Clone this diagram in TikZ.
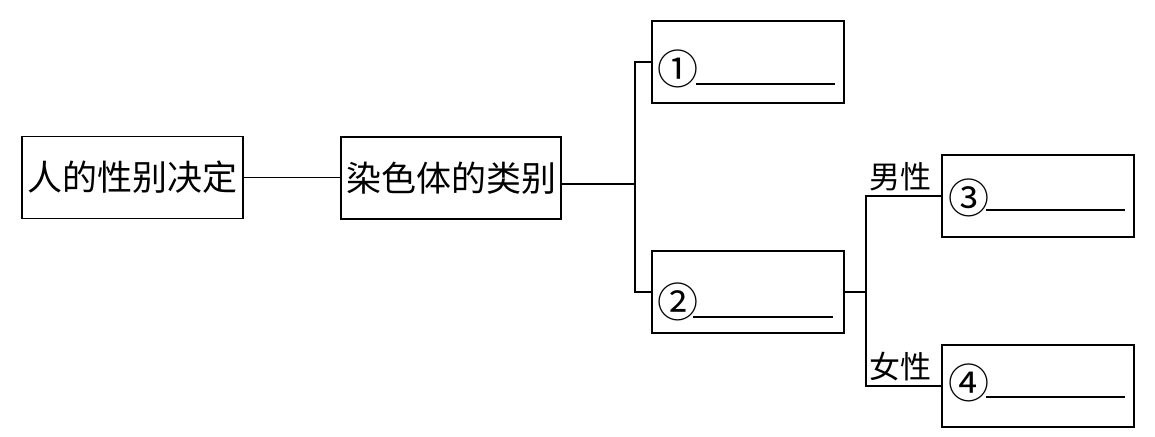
\documentclass[tikz,border=0pt]{standalone}
\usepackage{fontspec}
\newfontfamily\cjk{Noto Sans CJK SC}
\usetikzlibrary{positioning,calc}

\tikzset{
  box/.style={draw, line width=1.9pt, minimum width=192pt, minimum height=82pt, inner sep=0pt},
  mainbox/.style={box, minimum width=221pt, font=\cjk\fontsize{35}{35}\selectfont},
  num/.style={inner sep=0pt, font=\cjk\fontsize{41}{41}\selectfont},
  tag/.style={inner sep=0pt, font=\cjk\fontsize{31}{31}\selectfont},
  link/.style={line width=1.2pt},
  blank/.style={line width=1.1pt}
}

\begin{document}
\begin{tikzpicture}[x=1pt, y=-1pt]
        \useasboundingbox (0,0) rectangle (1155,436);

        % left part
        \node[mainbox] (decide) at (132.5,177.5) {人的性别决定};
        \node[mainbox, minimum width=220pt] (kind) at (451,178) {染色体的类别};
        \draw[link] (decide) -- (kind.west |- decide);

        % first fork
        \node[box] (b1) at (748,62) {};
        \node[box] (b2) at (748,292) {};
        \coordinate (fork1) at (635,184);
        \draw[link] ([yshift=-6pt]kind.east) -- (fork1);
        \draw[link] (b1.west) -| (fork1) |- (b2.west);

        % second fork
        \node[box] (b3) at (1038,196) {};
        \node[box] (b4) at (1038,386) {};
        \coordinate (fork2) at (866,292);
        \draw[link] (b2.east) -- (fork2);
        \draw[link] (b3.west) -| (fork2) |- (b4.west);
        \node[tag] (male) at (900,177) {男性};
        \node[tag] (female) at (900,367) {女性};

        % numbers and blanks
        \node[num] (c1) at ([xshift=27pt,yshift=-7pt]b1.west) {①};
        \draw[blank] ([xshift=45pt,yshift=-22pt]b1.west) -- ++(139,0);
        \node[num] (c2) at ([xshift=27pt,yshift=-10pt]b2.west) {②};
        \draw[blank] ([xshift=42pt,yshift=-25pt]b2.west) -- ++(140,0);
        \node[num] (c3) at ([xshift=28pt,yshift=-2pt]b3.west) {③};
        \draw[blank] ([xshift=45pt,yshift=-14pt]b3.west) -- ++(139,0);
        \node[num] (c4) at ([xshift=28pt,yshift=3pt]b4.west) {④};
        \draw[blank] ([xshift=45pt,yshift=-11pt]b4.west) -- ++(139,0);
\end{tikzpicture}
\end{document}
